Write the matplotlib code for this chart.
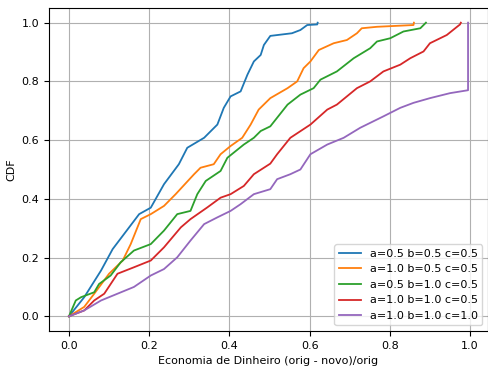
import matplotlib
matplotlib.use("Agg")
import matplotlib.pyplot as plt

# CDF curves of money savings for each (a, b, c) configuration
labels = [
    "a=0.5 b=0.5 c=0.5",
    "a=1.0 b=0.5 c=0.5",
    "a=0.5 b=1.0 c=0.5",
    "a=1.0 b=1.0 c=0.5",
    "a=1.0 b=1.0 c=1.0",
]

x_a05_b05_c05 = [0.0, 0.038, 0.08, 0.109, 0.175, 0.204, 0.237, 0.274, 0.295, 0.337,
                 0.37, 0.386, 0.403, 0.428, 0.445, 0.461, 0.478, 0.486, 0.502,
                 0.556, 0.577, 0.594, 0.619, 0.62]
y_a05_b05_c05 = [0.0, 0.065, 0.156, 0.229, 0.348, 0.37, 0.45, 0.518, 0.574, 0.608,
                 0.653, 0.71, 0.749, 0.766, 0.823, 0.868, 0.89, 0.924, 0.955,
                 0.964, 0.975, 0.992, 0.994, 1.0]

x_a10_b05_c05 = [0.0, 0.038, 0.063, 0.1, 0.134, 0.154, 0.179, 0.204, 0.237, 0.266,
                 0.312, 0.328, 0.361, 0.378, 0.403, 0.432, 0.453, 0.473, 0.502,
                 0.545, 0.569, 0.585, 0.602, 0.623, 0.66, 0.693, 0.718, 0.73,
                 0.768, 0.859, 0.86]
y_a10_b05_c05 = [0.0, 0.032, 0.077, 0.145, 0.19, 0.246, 0.331, 0.348, 0.376, 0.416,
                 0.484, 0.506, 0.518, 0.552, 0.58, 0.608, 0.653, 0.704, 0.743,
                 0.777, 0.8, 0.845, 0.868, 0.907, 0.93, 0.941, 0.964, 0.981,
                 0.986, 0.992, 1.0]

x_a05_b10_c05 = [0.0, 0.017, 0.03, 0.063, 0.075, 0.104, 0.129, 0.162, 0.204, 0.237,
                 0.27, 0.303, 0.32, 0.341, 0.378, 0.395, 0.436, 0.461, 0.478,
                 0.502, 0.545, 0.577, 0.61, 0.627, 0.668, 0.71, 0.751, 0.768,
                 0.801, 0.834, 0.876, 0.89]
y_a05_b10_c05 = [0.0, 0.054, 0.065, 0.082, 0.11, 0.139, 0.184, 0.224, 0.246, 0.292,
                 0.348, 0.359, 0.416, 0.461, 0.495, 0.54, 0.585, 0.608, 0.631,
                 0.647, 0.721, 0.755, 0.777, 0.806, 0.834, 0.879, 0.913, 0.936,
                 0.947, 0.97, 0.981, 1.0]

x_a10_b10_c05 = [0.0, 0.038, 0.063, 0.088, 0.121, 0.162, 0.204, 0.237, 0.279, 0.303,
                 0.345, 0.378, 0.403, 0.436, 0.461, 0.502, 0.519, 0.552, 0.602,
                 0.644, 0.668, 0.718, 0.751, 0.784, 0.826, 0.851, 0.884, 0.9,
                 0.942, 0.963, 0.975, 0.977]
y_a10_b10_c05 = [0.0, 0.02, 0.054, 0.077, 0.145, 0.167, 0.19, 0.235, 0.303, 0.331,
                 0.371, 0.404, 0.416, 0.444, 0.484, 0.52, 0.552, 0.608, 0.653,
                 0.704, 0.721, 0.777, 0.8, 0.834, 0.857, 0.879, 0.902, 0.93,
                 0.958, 0.981, 0.994, 1.0]

x_a10_b10_c10 = [0.0, 0.038, 0.08, 0.121, 0.162, 0.204, 0.237, 0.27, 0.303, 0.337,
                 0.37, 0.403, 0.428, 0.461, 0.502, 0.519, 0.552, 0.577, 0.602,
                 0.644, 0.685, 0.726, 0.784, 0.826, 0.859, 0.9, 0.95, 0.995, 0.995]
y_a10_b10_c10 = [0.0, 0.02, 0.054, 0.077, 0.1, 0.139, 0.161, 0.201, 0.258, 0.314,
                 0.337, 0.359, 0.382, 0.416, 0.433, 0.467, 0.484, 0.5, 0.552,
                 0.585, 0.608, 0.642, 0.681, 0.71, 0.727, 0.743, 0.76, 0.77, 1.0]

series = [
    (x_a05_b05_c05, y_a05_b05_c05),
    (x_a10_b05_c05, y_a10_b05_c05),
    (x_a05_b10_c05, y_a05_b10_c05),
    (x_a10_b10_c05, y_a10_b10_c05),
    (x_a10_b10_c10, y_a10_b10_c10),
]

plt.rcParams["font.size"] = 8

fig = plt.figure(figsize=(4.89, 3.67), dpi=100)
ax = fig.add_axes([49 / 489, 36 / 367, 439 / 489, 323 / 367])

for (xs, ys), label in zip(series, labels):
    ax.plot(xs, ys, label=label, linewidth=1.3)

ax.set_xlabel("Economia de Dinheiro (orig - novo)/orig")
ax.set_ylabel("CDF")
ax.grid(True)
ax.legend(loc="lower right")

fig.savefig("out.png", dpi=100)
